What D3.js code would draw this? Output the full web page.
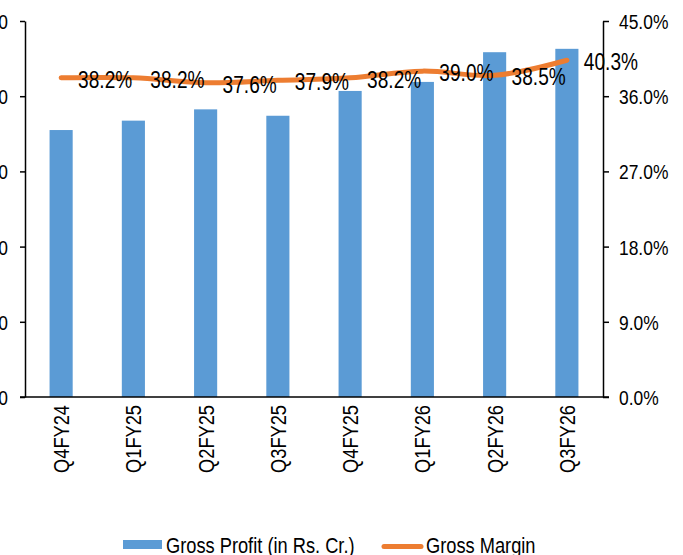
<!DOCTYPE html>
<html><head><meta charset="utf-8">
<script src="https://cdn.jsdelivr.net/npm/d3@7"></script>
<style>
html,body{margin:0;padding:0;background:#fff;}
svg{display:block;}
text{font-family:"Liberation Sans",Arial,sans-serif;fill:#000;}
</style></head>
<body>
<svg id="chart" width="683" height="555"></svg>
<script>
const categories = ["Q4FY24","Q1FY25","Q2FY25","Q3FY25","Q4FY25","Q1FY26","Q2FY26","Q3FY26"];
const grossProfit = [710, 735, 765, 748, 814, 838, 917, 926];
const grossMargin = [38.2, 38.2, 37.6, 37.9, 38.2, 39.0, 38.5, 40.3];
const leftTicks = [0, 200, 400, 600, 800, 1000];
const rightTicks = [0, 9, 18, 27, 36, 45];
const seriesNames = ["Gross Profit (in Rs. Cr.)", "Gross Margin"];

const svg = d3.select("#chart");
const plot = {left: 25, right: 603, top: 21, bottom: 397};
const blue = "#5B9BD5", orange = "#ED7D31";
const SX = 0.83; // horizontal condensation of glyphs

function condense(sel) {
  sel.each(function() {
    const t = d3.select(this);
    const x = +t.attr("x") || 0;
    const prev = t.attr("transform") || "";
    t.attr("transform", `${prev} translate(${x},0) scale(${SX},1) translate(${-x},0)`);
  });
}

const x = d3.scaleBand().domain(categories).range([plot.left, plot.right]).paddingInner(0.68).paddingOuter(0.34);
const yL = d3.scaleLinear().domain([0, 1000]).range([plot.bottom, plot.top]);
const yR = d3.scaleLinear().domain([0, 45]).range([plot.bottom, plot.top]);

// bars
svg.append("g").selectAll("rect").data(categories).join("rect")
  .attr("x", d => x(d)).attr("width", x.bandwidth())
  .attr("y", (d,i) => yL(grossProfit[i]))
  .attr("height", (d,i) => plot.bottom - yL(grossProfit[i]))
  .attr("fill", blue);

// left axis
const axL = svg.append("g").attr("transform", `translate(${plot.left},0)`)
  .call(d3.axisLeft(yL).tickValues(leftTicks).tickSize(5).tickPadding(12).tickSizeOuter(0)
    .tickFormat(d3.format(",")));
axL.selectAll("path").attr("stroke","#000").attr("stroke-width",1.5);
axL.selectAll("line").attr("stroke","#000").attr("stroke-width",1.5);
axL.selectAll("text").attr("font-size","21px").attr("dy","0.36em").call(condense);

// right axis
const axR = svg.append("g").attr("transform", `translate(${plot.right},0)`)
  .call(d3.axisRight(yR).tickValues(rightTicks).tickSize(6).tickPadding(10).tickSizeOuter(0)
    .tickFormat(d => d.toFixed(1) + "%"));
axR.selectAll("path").attr("stroke","#000").attr("stroke-width",1.5);
axR.selectAll("line").attr("stroke","#000").attr("stroke-width",1.5);
axR.selectAll("text").attr("font-size","21px").attr("dy","0.36em").call(condense);

// bottom axis
const axB = svg.append("g").attr("transform", `translate(0,${plot.bottom})`)
  .call(d3.axisBottom(x).tickSize(0).tickPadding(0));
axB.select("path").attr("d", `M${plot.left-5},0H${plot.right+6}`).attr("stroke","#000").attr("stroke-width",1.5);
axB.selectAll("text")
  .attr("font-size","22px")
  .attr("text-anchor","end")
  .attr("x", 0).attr("y", 0).attr("dy","0.36em")
  .attr("transform", `translate(0,8) rotate(-90) scale(${SX},1)`);

// line
const pts = categories.map((c,i) => [x(c) + x.bandwidth()/2, yR(grossMargin[i])]);
svg.append("path").attr("d", d3.line().curve(d3.curveCatmullRom.alpha(0))(pts))
  .attr("fill","none").attr("stroke",orange).attr("stroke-width",5).attr("stroke-linecap","round");

// data labels
svg.append("g").selectAll("text").data(grossMargin).join("text")
  .attr("x", (d,i) => pts[i][0] + 17)
  .attr("y", (d,i) => pts[i][1] + 1.5)
  .attr("dy","0.36em")
  .attr("font-size","23px")
  .text(d => d.toFixed(1) + "%")
  .call(condense);

// legend
const lg = svg.append("g");
lg.append("rect").attr("x",123).attr("y",540).attr("width",39).attr("height",9).attr("fill",blue);
lg.append("text").attr("x",166).attr("y",545).attr("dy","0.36em").attr("font-size","22px").text(seriesNames[0]).call(condense);
lg.append("line").attr("x1",384).attr("x2",421).attr("y1",546.5).attr("y2",546.5)
  .attr("stroke",orange).attr("stroke-width",5).attr("stroke-linecap","round");
lg.append("text").attr("x",426).attr("y",545).attr("dy","0.36em").attr("font-size","22px").text(seriesNames[1]).call(condense);
</script>
</body></html>
